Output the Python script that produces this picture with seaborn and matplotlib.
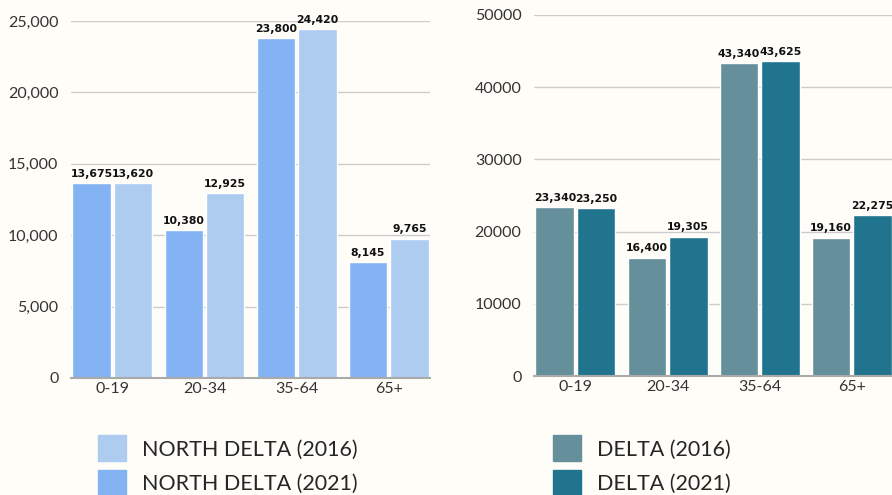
import pandas as pd
import matplotlib.pyplot as plt
import seaborn as sns
from matplotlib.patches import Patch
from matplotlib.ticker import FuncFormatter

ages = ["0-19", "20-34", "35-64", "65+"]

north_2021 = [13675, 10380, 23800, 8145]
north_2016 = [13620, 12925, 24420, 9765]
delta_2016 = [23340, 16400, 43340, 19160]
delta_2021 = [23250, 19305, 43625, 22275]

nd_dark, nd_light = "#84b3f4", "#aecbf0"
d_grey, d_teal = "#668f9c", "#21748e"
bg = "#fffdf8"

north = pd.DataFrame({
    "age": ages * 2,
    "value": north_2021 + north_2016,
    "series": ["NORTH DELTA (2021)"] * 4 + ["NORTH DELTA (2016)"] * 4,
})
delta = pd.DataFrame({
    "age": ages * 2,
    "value": delta_2016 + delta_2021,
    "series": ["DELTA (2016)"] * 4 + ["DELTA (2021)"] * 4,
})

sns.set_style("white")
plt.rcParams["font.family"] = ["Lato", "DejaVu Sans"]

fig = plt.figure(figsize=(8.92, 4.95), dpi=100, facecolor=bg)
ax1 = fig.add_axes([0.0796, 0.2364, 0.4025, 0.7212])
ax2 = fig.add_axes([0.5987, 0.2404, 0.4025, 0.7293])


def draw(ax, df, order, colors, ymax, step, fmt):
    ax.set_facecolor(bg)
    sns.barplot(data=df, x="age", y="value", hue="series", hue_order=order,
                palette=colors, width=0.9, gap=0.07, ax=ax, legend=False,
                zorder=2, saturation=1)
    for c in ax.containers:
        lbls = ax.bar_label(c, labels=[f"{v:,.0f}" for v in c.datavalues],
                            padding=3, fontsize=7.8, fontweight="bold",
                            color="#111111", family="DejaVu Sans")
        for t in lbls:
            t.set_clip_on(False)
    ax.set_xlim(-0.45, 3.45)
    ax.set_ylim(0, ymax)
    ax.set_yticks(range(0, ymax + 1, step))
    ax.yaxis.set_major_formatter(FuncFormatter(fmt))
    ax.grid(axis="y", color="#cccccc", linewidth=1, zorder=0)
    ax.set_axisbelow(True)
    for s in ["top", "right", "left"]:
        ax.spines[s].set_visible(False)
    ax.spines["bottom"].set_color("#aaaaaa")
    ax.spines["bottom"].set_linewidth(1.5)
    ax.tick_params(axis="both", length=0, labelsize=11.5, colors="#333333")
    ax.tick_params(axis="y", pad=9)
    ax.tick_params(axis="x", pad=3)
    ax.set_xlabel("")
    ax.set_ylabel("")


draw(ax1, north, ["NORTH DELTA (2021)", "NORTH DELTA (2016)"],
     [nd_dark, nd_light], 25000, 5000, lambda v, p: f"{v:,.0f}")
draw(ax2, delta, ["DELTA (2016)", "DELTA (2021)"],
     [d_grey, d_teal], 50000, 10000, lambda v, p: f"{v:.0f}")

leg_kw = dict(frameon=False, fontsize=15.5, handlelength=1.3, handleheight=1.5,
              handletextpad=0.75, labelspacing=0.4, loc="upper left")
h1 = [Patch(color=nd_light), Patch(color=nd_dark)]
fig.legend(h1, ["NORTH DELTA (2016)", "NORTH DELTA (2021)"],
           bbox_to_anchor=(0.088, 0.16), **leg_kw)
h2 = [Patch(color=d_grey), Patch(color=d_teal)]
fig.legend(h2, ["DELTA (2016)", "DELTA (2021)"],
           bbox_to_anchor=(0.598, 0.16), **leg_kw)

plt.savefig("out.png", dpi=100, facecolor=bg)
